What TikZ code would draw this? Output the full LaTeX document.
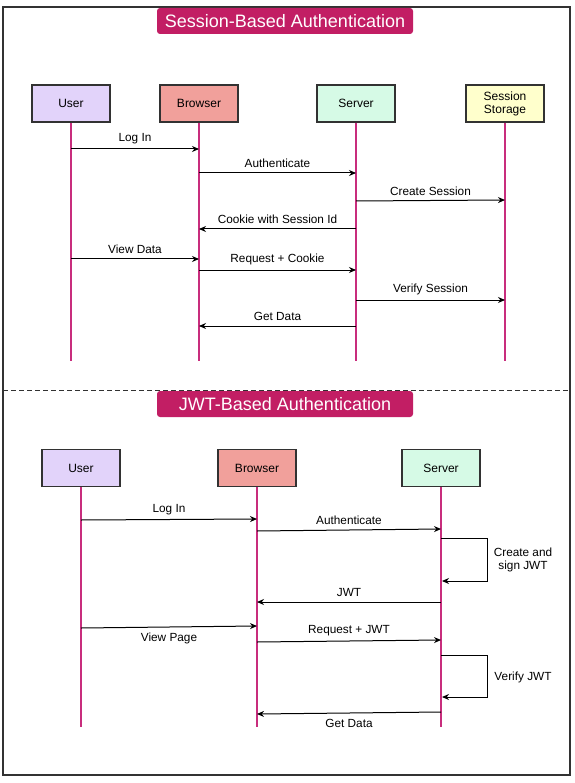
\documentclass[tikz,border=0pt]{standalone}
\usepackage{fontspec}
\setmainfont{Liberation Sans}
\usetikzlibrary{arrows.meta,positioning,calc}

\definecolor{titlered}{RGB}{194,30,100}
\definecolor{lifepink}{RGB}{200,45,125}
\definecolor{userfill}{RGB}{226,211,250}
\definecolor{brwfill}{RGB}{241,160,155}
\definecolor{srvfill}{RGB}{214,250,230}
\definecolor{stofill}{RGB}{255,255,204}
\definecolor{framegray}{RGB}{50,50,50}

\tikzset{
  actor/.style={draw=framegray,line width=1.2pt,minimum width=78pt,minimum height=37pt,
    inner sep=0pt,align=center,font=\fontsize{12}{13}\selectfont},
  banner/.style={fill=titlered,rounded corners=3pt,text=white,minimum width=256pt,
    minimum height=26pt,font=\fontsize{18}{20}\selectfont},
  life/.style={draw=lifepink,line width=1.3pt},
  msg/.style={draw=black,line width=1pt,-{Stealth[length=7pt,width=6pt]}},
  lbl/.style={font=\fontsize{11.8}{13.5}\selectfont,inner sep=1.5pt}
}

\begin{document}
\begin{tikzpicture}[x=1pt,y=-1pt]
  \useasboundingbox (0,0) rectangle (574,783);
  \draw[framegray,line width=1.2pt] (3,7) rectangle (570,775);
  \draw[framegray,line width=1pt,dashed,dash pattern=on 5pt off 3pt] (3,390) -- (570,390);

  % session based
  \node[banner] (t1) at (285,21) {Session-Based Authentication};
  \node[actor,fill=userfill] (u1) at (71,103.5) {User};
  \node[actor,fill=brwfill] (b1) at (199,103.5) {Browser};
  \node[actor,fill=srvfill] (s1) at (356,103.5) {Server};
  \node[actor,fill=stofill] (d1) at (505,103.5) {Session\\Storage};
  \foreach \n in {u1,b1,s1,d1}
    \draw[life] (\n.south) -- (\n |- 0,361);

  \draw[msg] (u1 |- 0,149) -- (b1 |- 0,149) node[lbl,midway,above=3pt] {Log In};
  \draw[msg] (b1 |- 0,173) -- (s1 |- 0,173) node[lbl,midway,above=3pt] {Authenticate};
  \draw[msg] (s1 |- 0,201) -- (d1 |- 0,200) node[lbl,midway,above=3pt] {Create Session};
  \draw[msg] (s1 |- 0,229) -- (b1 |- 0,229) node[lbl,midway,above=3pt] {Cookie with Session Id};
  \draw[msg] (u1 |- 0,259) -- (b1 |- 0,259) node[lbl,midway,above=3pt] {View Data};
  \draw[msg] (b1 |- 0,270) -- (s1 |- 0,270) node[lbl,midway,above=3pt] {Request + Cookie};
  \draw[msg] (s1 |- 0,300) -- (d1 |- 0,300) node[lbl,midway,above=3pt] {Verify Session};
  \draw[msg] (s1 |- 0,326) -- (b1 |- 0,326) node[lbl,midway,above=3pt] {Get Data};

  % jwt based
  \node[banner] (t2) at (285,404) {JWT-Based Authentication};
  \node[actor,fill=userfill] (u2) at (81,468) {User};
  \node[actor,fill=brwfill] (b2) at (257,468) {Browser};
  \node[actor,fill=srvfill] (s2) at (441,468) {Server};
  \foreach \n in {u2,b2,s2}
    \draw[life] (\n.south) -- (\n |- 0,727);

  \draw[msg] (u2 |- 0,520) -- (b2 |- 0,519) node[lbl,midway,above=3pt] {Log In};
  \draw[msg] (b2 |- 0,531) -- (s2 |- 0,529) node[lbl,midway,above=3pt] {Authenticate};
  \draw[msg] (s2 |- 0,538) -- ++(46,0) |- ([xshift=1pt]s2 |- 0,581);
  \node[lbl,align=center] (c1) at (523,560) {Create and\\sign JWT};
  \draw[msg] (s2 |- 0,602) -- (b2 |- 0,602) node[lbl,midway,above=3pt] {JWT};
  \draw[msg] (u2 |- 0,628) -- (b2 |- 0,626) node[lbl,midway,below=4pt] {View Page};
  \draw[msg] (b2 |- 0,642) -- (s2 |- 0,640) node[lbl,midway,above=3pt] {Request + JWT};
  \draw[msg] (s2 |- 0,655) -- ++(46,0) |- ([xshift=1pt]s2 |- 0,697);
  \node[lbl] (c2) at (523,677) {Verify JWT};
  \draw[msg] (s2 |- 0,712) -- (b2 |- 0,714) node[lbl,midway,below=4pt] {Get Data};
\end{tikzpicture}
\end{document}
